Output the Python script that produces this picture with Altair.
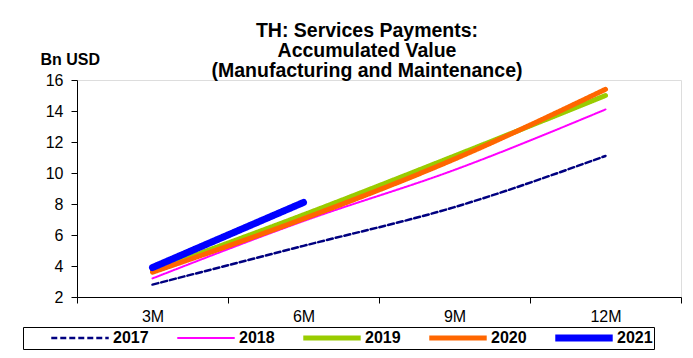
import altair as alt
import pandas as pd

months = ["3M", "6M", "9M", "12M"]
years = ["2017", "2018", "2019", "2020", "2021"]
v2017 = [2.8, 5.3, 7.8, 11.1]
v2018 = [3.2, 6.9, 10.2, 14.1]
v2019 = [3.7, 7.3, 11.1, 15.0]
v2020 = [3.6, 7.05, 10.9, 15.4]
v2021 = [3.9, 8.1]

colors = ["#000080", "#FF00FF", "#99CC00", "#FF6600", "#0000FF"]
widths = [2.5, 2, 5, 5, 7]
dashes = [[6, 3], [1, 0], [1, 0], [1, 0], [1, 0]]

rows = []
for y, vals in zip(years, [v2017, v2018, v2019, v2020, v2021]):
    for m, v in zip(months, vals):
        rows.append({"month": m, "year": y, "value": v})
df = pd.DataFrame(rows)

FONT = "Liberation Sans"

chart = alt.Chart(df).mark_line(interpolate="monotone", strokeCap="round").encode(
    x=alt.X("month:N", sort=months, title=None,
            scale=alt.Scale(paddingInner=0, paddingOuter=0),
            axis=alt.Axis(labelAngle=0, tickBand="extent", tickSize=6, labelPadding=5,
                          labelFontSize=16, labelFont=FONT, labelColor="black",
                          domainColor="black", tickColor="black", grid=False)),
    y=alt.Y("value:Q", title="Bn USD",
            scale=alt.Scale(domain=[2, 16], nice=False, zero=False),
            axis=alt.Axis(values=[2, 4, 6, 8, 10, 12, 14, 16], tickSize=6, labelPadding=8,
                          labelFontSize=16, labelFont=FONT, labelColor="black",
                          domainColor="black", tickColor="black", grid=False,
                          titleAngle=0, titleAlign="left", titleBaseline="alphabetic",
                          titleX=-37, titleY=-16, titleFontSize=16, titleFont=FONT,
                          titleFontWeight="bold", titleColor="black")),
    color=alt.Color("year:N", sort=years, title=None,
                    scale=alt.Scale(domain=years, range=colors),
                    legend=alt.Legend(orient="none", legendX=-54, legendY=247,
                                      direction="horizontal", symbolType="M-10,0L10,0",
                                      symbolSize=33, symbolOffset=48, labelOffset=25,
                                      columnPadding=1, padding=1, clipHeight=20,
                                      strokeColor="black",
                                      labelFontSize=16, labelFont=FONT, labelFontWeight="bold",
                                      labelColor="black")),
    strokeWidth=alt.StrokeWidth("year:N", sort=years, title=None,
                                scale=alt.Scale(type="ordinal", domain=years, range=widths)),
    strokeDash=alt.StrokeDash("year:N", sort=years, title=None,
                              scale=alt.Scale(domain=years, range=dashes)),
).properties(
    width=604, height=217,
    autosize=alt.AutoSizeParams(type="none"),
    padding={"left": 69, "top": 72, "right": 4, "bottom": 53},
    title=alt.TitleParams(
        text=["TH: Services Payments:", "Accumulated Value", "(Manufacturing and Maintenance)"],
        font=FONT, fontSize=19.5, fontWeight="bold", color="black", anchor="middle",
        dx=-12, dy=34, lineHeight=20, offset=4),
).configure_view(strokeWidth=0).configure(background="white")

chart.save("out.html", embed_options={"renderer": "svg", "actions": False})
